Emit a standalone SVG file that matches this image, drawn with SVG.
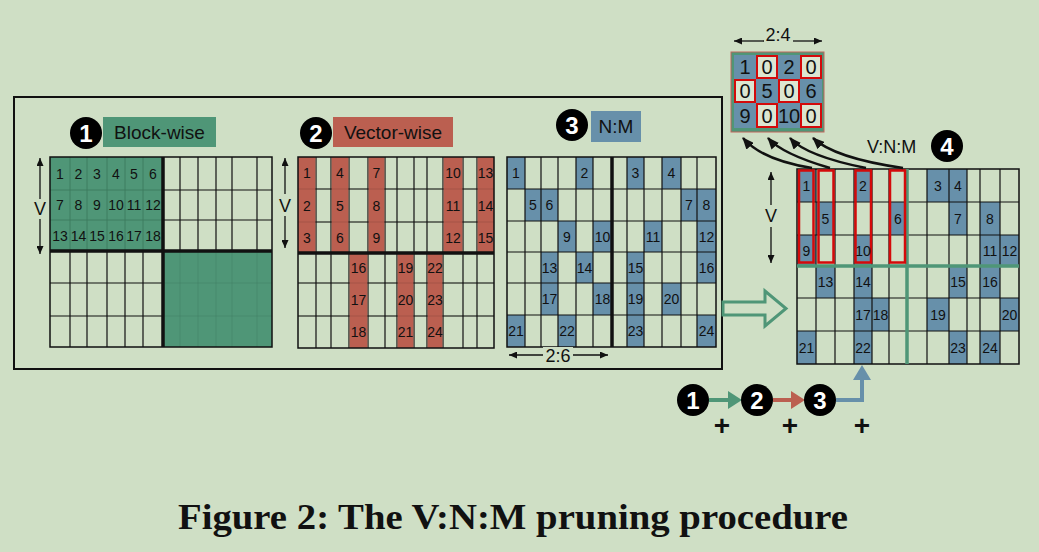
<svg xmlns="http://www.w3.org/2000/svg" width="1039" height="552" viewBox="0 0 1039 552">
<defs>
<style>
.bg{fill:#cfdfc5}
.n{font-family:"Liberation Sans",Arial,sans-serif;font-size:14px;text-anchor:middle;fill:#111}
.lbl{font-family:"Liberation Sans",Arial,sans-serif;font-size:19px;text-anchor:middle;fill:#111}
.cd{font-family:"Liberation Sans",Arial,sans-serif;font-size:24px;font-weight:bold;text-anchor:middle;fill:#fff}
.m{font-family:"Liberation Sans",Arial,sans-serif;font-size:18px;text-anchor:middle;fill:#111}
.sm{font-family:"Liberation Sans",Arial,sans-serif;font-size:20px;text-anchor:middle;fill:#111}
.pl{font-family:"Liberation Sans",Arial,sans-serif;font-size:28px;font-weight:bold;text-anchor:middle;fill:#111}
.gl{fill:none;stroke:#111;stroke-width:1.2}
.bd{fill:none;stroke:#111;stroke-width:1.5}
.thick{fill:none;stroke:#111;stroke-width:3.5}
.g{fill:#4f9677}
.r{fill:#bb5f50}
.b{fill:#6790aa}
.va{fill:none;stroke:#111;stroke-width:1.3;marker-end:url(#sa)}
.cv{fill:none;stroke:#111;stroke-width:2.5;marker-end:url(#ah)}
</style>
<marker id="sa" viewBox="0 0 8 7" refX="8" refY="3.5" markerWidth="8" markerHeight="7" markerUnits="userSpaceOnUse" orient="auto"><path d="M0,0 L8,3.5 L0,7 z" fill="#111"/></marker>
<marker id="ah" viewBox="0 0 12 10" refX="11" refY="5" markerWidth="12" markerHeight="10" markerUnits="userSpaceOnUse" orient="auto"><path d="M0,0 L12,5 L0,10 z" fill="#111"/></marker>
</defs>
<rect x="0" y="0" width="1039" height="552" class="bg"/>

<!-- outer frame -->
<rect x="14" y="97" width="708" height="272" fill="none" stroke="#111" stroke-width="2"/>

<!-- Block-wise -->
<g id="block-wise">
<circle cx="86" cy="133" r="16" fill="#000"/><text x="86" y="142" class="cd">1</text>
<rect x="103" y="117" width="113" height="30" class="g"/>
<text x="159.5" y="139" class="lbl">Block-wise</text>
<rect x="50" y="157" width="113" height="94" class="g"/>
<rect x="163" y="251" width="109" height="96" class="g"/>
<path d="M70 157V251M87 157V251M107 157V251M125 157V251M143 157V251M50 190H163M50 220H163" fill="none" stroke="#3d7b5e" stroke-width="0.9"/>
<path d="M180 251V347M198 251V347M216 251V347M232 251V347M257 251V347M163 283H272M163 316H272" fill="none" stroke="#3d7b5e" stroke-width="0.8" opacity="0.5"/>
<path class="gl" d="M180 157V251M198 157V251M216 157V251M232 157V251M257 157V251M163 190H272M163 220H272M70 251V347M87 251V347M107 251V347M125 251V347M143 251V347M50 283H163M50 316H163"/>
<rect x="50" y="157" width="222" height="190" class="bd"/>
<path class="thick" d="M163 157V347M50 251H272"/>
<text class="n" x="60" y="178.5">1</text><text class="n" x="78.5" y="178.5">2</text><text class="n" x="97" y="178.5">3</text><text class="n" x="116" y="178.5">4</text><text class="n" x="134" y="178.5">5</text><text class="n" x="153" y="178.5">6</text>
<text class="n" x="60" y="210">7</text><text class="n" x="78.5" y="210">8</text><text class="n" x="97" y="210">9</text><text class="n" x="116" y="210">10</text><text class="n" x="134" y="210">11</text><text class="n" x="153" y="210">12</text>
<text class="n" x="60" y="240.5">13</text><text class="n" x="78.5" y="240.5">14</text><text class="n" x="97" y="240.5">15</text><text class="n" x="116" y="240.5">16</text><text class="n" x="134" y="240.5">17</text><text class="n" x="153" y="240.5">18</text>
<path class="va" d="M40 199V158"/><path class="va" d="M40 219V254"/>
<text x="40" y="215" class="m">V</text>
</g>

<!-- Vector-wise -->
<g id="vector-wise">
<circle cx="316" cy="133" r="16" fill="#000"/><text x="316" y="142" class="cd">2</text>
<rect x="333" y="117" width="120" height="30" class="r"/>
<text x="393" y="139" class="lbl">Vector-wise</text>
<path class="gl" d="M316 157V348M331 157V348M349 157V348M368 157V348M385 157V348M397 157V348M414 157V348M427 157V348M443 157V348M463 157V348M477 157V348M298 189H494M298 222H494M298 283H494M298 316H494"/>
<rect x="298" y="157" width="17.4" height="96" class="r"/>
<rect x="331.6" y="157" width="16.8" height="96" class="r"/>
<rect x="368.6" y="157" width="15.8" height="96" class="r"/>
<rect x="443.6" y="157" width="18.8" height="96" class="r"/>
<rect x="477.6" y="157" width="16.4" height="96" class="r"/>
<rect x="349.6" y="253" width="17.8" height="95" class="r"/>
<rect x="397.6" y="253" width="15.8" height="95" class="r"/>
<rect x="427.6" y="253" width="14.8" height="95" class="r"/>
<path d="M298 189H494M298 222H494M298 283H494M298 316H494" fill="none" stroke="#000" stroke-width="0.8" opacity="0.15"/>
<rect x="298" y="157" width="196" height="191" class="bd"/>
<path class="thick" d="M298 253H494"/>
<text class="n" x="307" y="178">1</text><text class="n" x="340" y="178">4</text><text class="n" x="376.5" y="178">7</text><text class="n" x="453" y="178">10</text><text class="n" x="485.5" y="178">13</text>
<text class="n" x="307" y="210.5">2</text><text class="n" x="340" y="210.5">5</text><text class="n" x="376.5" y="210.5">8</text><text class="n" x="453" y="210.5">11</text><text class="n" x="485.5" y="210.5">14</text>
<text class="n" x="307" y="242.5">3</text><text class="n" x="340" y="242.5">6</text><text class="n" x="376.5" y="242.5">9</text><text class="n" x="453" y="242.5">12</text><text class="n" x="485.5" y="242.5">15</text>
<text class="n" x="358.5" y="273">16</text><text class="n" x="405.5" y="273">19</text><text class="n" x="435" y="273">22</text>
<text class="n" x="358.5" y="304.5">17</text><text class="n" x="405.5" y="304.5">20</text><text class="n" x="435" y="304.5">23</text>
<text class="n" x="358.5" y="337">18</text><text class="n" x="405.5" y="337">21</text><text class="n" x="435" y="337">24</text>
<path class="va" d="M285 194V158"/><path class="va" d="M285 216V248"/>
<text x="285" y="211.5" class="m">V</text>
</g>

<!-- N:M -->
<g id="n-m">
<circle cx="572" cy="125" r="16" fill="#000"/><text x="572" y="134" class="cd">3</text>
<rect x="591" y="111" width="50" height="31" class="b"/>
<text x="616" y="133" class="lbl">N:M</text>
<rect class="b" x="507" y="157" width="18" height="32"/><rect class="b" x="576" y="157" width="17" height="32"/><rect class="b" x="627" y="157" width="17" height="32"/><rect class="b" x="662" y="157" width="19" height="32"/>
<rect class="b" x="525" y="189" width="16" height="32"/><rect class="b" x="541" y="189" width="17" height="32"/><rect class="b" x="681" y="189" width="16" height="32"/><rect class="b" x="697" y="189" width="19" height="32"/>
<rect class="b" x="558" y="221" width="18" height="31"/><rect class="b" x="593" y="221" width="19" height="31"/><rect class="b" x="644" y="221" width="18" height="31"/><rect class="b" x="697" y="221" width="19" height="31"/>
<rect class="b" x="541" y="252" width="17" height="31"/><rect class="b" x="576" y="252" width="17" height="31"/><rect class="b" x="627" y="252" width="17" height="31"/><rect class="b" x="697" y="252" width="19" height="31"/>
<rect class="b" x="541" y="283" width="17" height="32"/><rect class="b" x="593" y="283" width="19" height="32"/><rect class="b" x="627" y="283" width="17" height="32"/><rect class="b" x="662" y="283" width="19" height="32"/>
<rect class="b" x="507" y="315" width="18" height="32"/><rect class="b" x="558" y="315" width="18" height="32"/><rect class="b" x="627" y="315" width="17" height="32"/><rect class="b" x="697" y="315" width="19" height="32"/>
<path class="gl" d="M525 157V347M541 157V347M558 157V347M576 157V347M593 157V347M627 157V347M644 157V347M662 157V347M681 157V347M697 157V347M507 189H716M507 221H716M507 252H716M507 283H716M507 315H716"/>
<rect x="507" y="157" width="209" height="190" class="bd"/>
<path class="thick" d="M612 157V347"/>
<text class="n" x="516" y="178">1</text><text class="n" x="584.5" y="178">2</text><text class="n" x="635.5" y="178">3</text><text class="n" x="671.5" y="178">4</text>
<text class="n" x="533" y="210">5</text><text class="n" x="549.5" y="210">6</text><text class="n" x="689" y="210">7</text><text class="n" x="706.5" y="210">8</text>
<text class="n" x="567" y="241.5">9</text><text class="n" x="602.5" y="241.5">10</text><text class="n" x="653" y="241.5">11</text><text class="n" x="706.5" y="241.5">12</text>
<text class="n" x="549.5" y="272.5">13</text><text class="n" x="584.5" y="272.5">14</text><text class="n" x="635.5" y="272.5">15</text><text class="n" x="706.5" y="272.5">16</text>
<text class="n" x="549.5" y="304">17</text><text class="n" x="602.5" y="304">18</text><text class="n" x="635.5" y="304">19</text><text class="n" x="671.5" y="304">20</text>
<text class="n" x="516" y="336">21</text><text class="n" x="567" y="336">22</text><text class="n" x="635.5" y="336">23</text><text class="n" x="706.5" y="336">24</text>
<rect x="543" y="347" width="30" height="18" class="bg"/>
<path class="va" d="M543 355H509"/><path class="va" d="M573 355H608"/>
<text x="558" y="362" class="m">2:6</text>
</g>

<!-- V:N:M result grid -->
<g id="vnm-grid">
<rect class="b" x="797" y="169" width="19" height="33"/><rect class="b" x="854" y="169" width="18" height="33"/><rect class="b" x="927" y="169" width="22" height="33"/><rect class="b" x="949" y="169" width="18" height="33"/>
<rect class="b" x="816" y="202" width="19" height="33"/><rect class="b" x="889" y="202" width="18" height="33"/><rect class="b" x="949" y="202" width="18" height="33"/><rect class="b" x="980" y="202" width="20" height="33"/>
<rect class="b" x="797" y="235" width="19" height="31"/><rect class="b" x="854" y="235" width="18" height="31"/><rect class="b" x="980" y="235" width="20" height="31"/><rect class="b" x="1000" y="235" width="19" height="31"/>
<rect class="b" x="816" y="266" width="19" height="32"/><rect class="b" x="854" y="266" width="18" height="32"/><rect class="b" x="949" y="266" width="18" height="32"/><rect class="b" x="980" y="266" width="20" height="32"/>
<rect class="b" x="854" y="298" width="18" height="33"/><rect class="b" x="872" y="298" width="17" height="33"/><rect class="b" x="927" y="298" width="22" height="33"/><rect class="b" x="1000" y="298" width="19" height="33"/>
<rect class="b" x="797" y="331" width="19" height="33"/><rect class="b" x="854" y="331" width="18" height="33"/><rect class="b" x="949" y="331" width="18" height="33"/><rect class="b" x="980" y="331" width="20" height="33"/>
<path class="gl" d="M816 169V364M835 169V364M854 169V364M872 169V364M889 169V364M927 169V364M949 169V364M967 169V364M980 169V364M1000 169V364M797 202H1019M797 235H1019M797 298H1019M797 331H1019"/>
<rect x="797" y="169" width="222" height="195" class="bd"/>
<path d="M907 169V364M797 266H1019" fill="none" stroke="#4f9677" stroke-width="3.5"/>
<g fill="none" stroke="#d40a0a" stroke-width="2.5">
<rect x="799" y="170.5" width="14.5" height="92"/>
<rect x="818.5" y="170.5" width="15" height="92"/>
<rect x="855.5" y="170.5" width="15.5" height="92"/>
<rect x="890" y="170.5" width="15" height="92"/>
</g>
<text class="n" x="806.5" y="190.5">1</text><text class="n" x="863" y="190.5">2</text><text class="n" x="938" y="190.5">3</text><text class="n" x="958" y="190.5">4</text>
<text class="n" x="825.5" y="223.5">5</text><text class="n" x="898" y="223.5">6</text><text class="n" x="958" y="223.5">7</text><text class="n" x="990" y="223.5">8</text>
<text class="n" x="806.5" y="255.5">9</text><text class="n" x="863" y="255.5">10</text><text class="n" x="990" y="255.5">11</text><text class="n" x="1009.5" y="255.5">12</text>
<text class="n" x="825.5" y="287">13</text><text class="n" x="863" y="287">14</text><text class="n" x="958" y="287">15</text><text class="n" x="990" y="287">16</text>
<text class="n" x="863" y="319.5">17</text><text class="n" x="880.5" y="319.5">18</text><text class="n" x="938" y="319.5">19</text><text class="n" x="1009.5" y="319.5">20</text>
<text class="n" x="806.5" y="352.5">21</text><text class="n" x="863" y="352.5">22</text><text class="n" x="958" y="352.5">23</text><text class="n" x="990" y="352.5">24</text>
<path class="va" d="M771 205V172"/><path class="va" d="M771 227V263"/>
<text x="771" y="221.5" class="m">V</text>
<text x="867" y="153" style="font-family:'Liberation Sans',Arial,sans-serif;font-size:18px;fill:#111">V:N:M</text>
<circle cx="947" cy="146" r="16" fill="#000"/><text x="947" y="155" class="cd">4</text>
</g>

<!-- compressed matrix -->
<g id="compressed">
<rect x="731" y="52" width="93" height="80" fill="#4f9677" stroke="#c0665c" stroke-width="1"/>
<rect class="b" x="734" y="55" width="22" height="24"/><rect class="b" x="778" y="55" width="22" height="24"/>
<rect class="b" x="756" y="79" width="22" height="24"/><rect class="b" x="800" y="79" width="22" height="24"/>
<rect class="b" x="734" y="103" width="22" height="25"/><rect class="b" x="778" y="103" width="22" height="25"/>
<g fill="#dce6d1" stroke="#d40a0a" stroke-width="2">
<rect x="757" y="56" width="20" height="22"/><rect x="801" y="56" width="20" height="22"/>
<rect x="735" y="80" width="20" height="22"/><rect x="779" y="80" width="20" height="22"/>
<rect x="757" y="104" width="20" height="23"/><rect x="801" y="104" width="20" height="23"/>
</g>
<text class="sm" x="745" y="74">1</text><text class="sm" x="767" y="74">0</text><text class="sm" x="789" y="74">2</text><text class="sm" x="811" y="74">0</text>
<text class="sm" x="745" y="98">0</text><text class="sm" x="767" y="98">5</text><text class="sm" x="789" y="98">0</text><text class="sm" x="811" y="98">6</text>
<text class="sm" x="745" y="123">9</text><text class="sm" x="767" y="123">0</text><text class="sm" x="789" y="123">10</text><text class="sm" x="811" y="123">0</text>
<path class="va" d="M764 41H734"/><path class="va" d="M793 41H822"/>
<text x="778" y="41" class="m">2:4</text>
</g>

<!-- connectors -->
<g id="connectors">
<path class="cv" d="M812 168Q762 160 743 138"/>
<path class="cv" d="M830 168Q782 154 768 138"/>
<path class="cv" d="M866 168Q806 156 790 138"/>
<path class="cv" d="M903 168Q834 158 813 138"/>
<polygon points="723,302 765,302 765,291 786,308.5 765,326 765,315 723,315" fill="#cfdfc5" stroke="#4f9677" stroke-width="3"/>
<path d="M709 400H730" stroke="#4f9677" stroke-width="4" fill="none"/>
<polygon points="728,391 742,400 728,409" fill="#4f9677"/>
<path d="M773 400H793" stroke="#bb5f50" stroke-width="4" fill="none"/>
<polygon points="791,391 805,400 791,409" fill="#bb5f50"/>
<path d="M836 400H862V378" stroke="#6790aa" stroke-width="4" fill="none"/>
<polygon points="853,380 862,365 871,380" fill="#6790aa"/>
</g>

<g id="sequence">
<circle cx="693" cy="400" r="16" fill="#000"/><text x="693" y="409" class="cd">1</text>
<circle cx="757" cy="400" r="16" fill="#000"/><text x="757" y="409" class="cd">2</text>
<circle cx="820" cy="400" r="16" fill="#000"/><text x="820" y="409" class="cd">3</text>
<text x="722" y="435" class="pl">+</text>
<text x="790" y="435" class="pl">+</text>
<text x="862" y="435" class="pl">+</text>
</g>

<text x="178" y="529" textLength="670" lengthAdjust="spacingAndGlyphs" style="font-family:'Liberation Serif','Times New Roman',serif;font-size:36px;font-weight:bold;fill:#111">Figure 2: The V:N:M pruning procedure</text>
</svg>
